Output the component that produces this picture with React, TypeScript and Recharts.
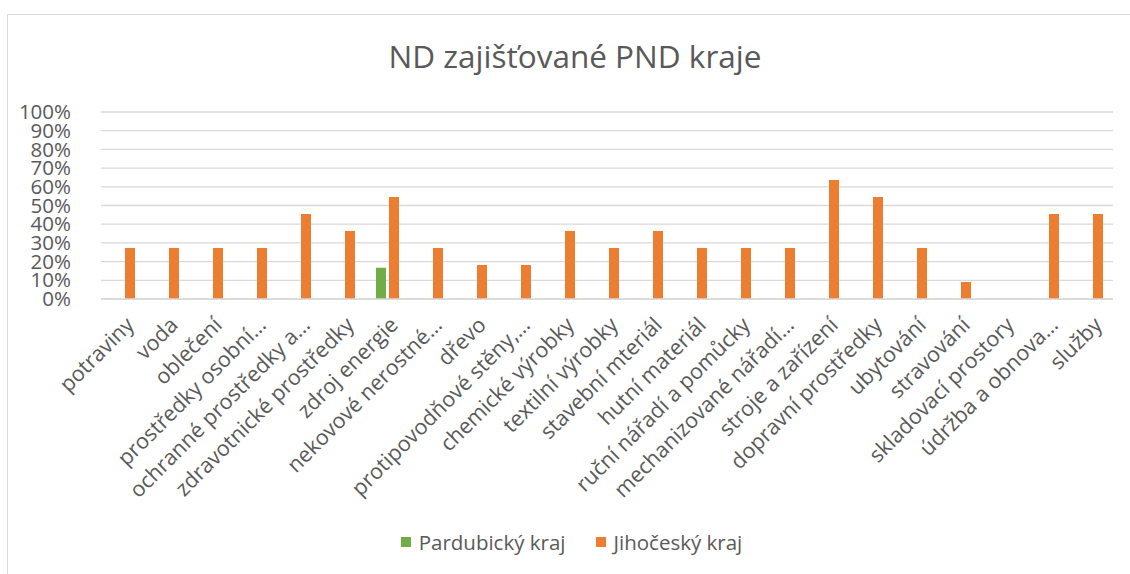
import { BarChart, Bar, XAxis, YAxis, CartesianGrid, Legend } from 'recharts';

const categories = [
  'potraviny',
  'voda',
  'oblečení',
  'prostředky osobní…',
  'ochranné prostředky a…',
  'zdravotnické prostředky',
  'zdroj energie',
  'nekovové nerostné…',
  'dřevo',
  'protipovodňové stěny,…',
  'chemické výrobky',
  'textilní výrobky',
  'stavební mteriál',
  'hutní materiál',
  'ruční nářadí a pomůcky',
  'mechanizované nářadí…',
  'stroje a zařízení',
  'dopravní prostředky',
  'ubytování',
  'stravování',
  'skladovací prostory',
  'údržba a obnova…',
  'služby',
];

const pardubicky = [
  null, null, null, null, null, null, 0.167, null, null, null, null, null,
  null, null, null, null, null, null, null, null, null, null, null,
];

const jihocesky = [
  0.273, 0.273, 0.273, 0.273, 0.455, 0.364, 0.545, 0.273, 0.182, 0.182, 0.364, 0.273,
  0.364, 0.273, 0.273, 0.273, 0.636, 0.545, 0.273, 0.091, 0, 0.455, 0.455,
];

const yTicks = [0, 0.1, 0.2, 0.3, 0.4, 0.5, 0.6, 0.7, 0.8, 0.9, 1];

const seriesNames = ['Pardubický kraj', 'Jihočeský kraj'];
const GREEN = '#70AD47';
const ORANGE = '#ED7D31';
const TEXT = '#595959';
const GRID = '#D9D9D9';
const FONT = '"Open Sans", sans-serif';

const data = categories.map((name, i) => ({
  name,
  pardubicky: pardubicky[i],
  jihocesky: jihocesky[i],
}));

// the y labels sit very close together in the original, as here
function YTick({ x, y, payload }: any) {
  return (
    <text x={x - 22} y={y} dy="0.35em" textAnchor="end" fill={TEXT} fontSize={20.5} fontFamily={FONT}>
      {Math.round(payload.value * 100)}%
    </text>
  );
}

function XTick({ x, y, payload }: any) {
  const tx = x + 7;
  const ty = y + 14;
  return (
    <text
      x={tx}
      y={ty}
      textAnchor="end"
      dy="0.35em"
      transform={`rotate(-45, ${tx}, ${ty})`}
      fill={TEXT}
      fontSize={21.5}
      fontFamily={FONT}
    >
      {payload.value}
    </text>
  );
}

function LegendBox() {
  const colors = [GREEN, ORANGE];
  return (
    <div style={{ display: 'flex', justifyContent: 'center', gap: 30, paddingLeft: 30, fontFamily: FONT, fontSize: 20.5, color: TEXT }}>
      {seriesNames.map((n, i) => (
        <div key={n} style={{ display: 'flex', alignItems: 'center', gap: 8 }}>
          <div style={{ width: 10, height: 10, background: colors[i] }} />
          <span>{n}</span>
        </div>
      ))}
    </div>
  );
}

export default function App() {
  return (
    <div style={{ position: 'absolute', left: 0, top: 0, width: 1130, height: 574, overflow: 'hidden', background: '#fff' }}>
      <div style={{ position: 'absolute', left: 7, top: 14, width: 1140, height: 600, border: `1.5px solid ${GRID}` }} />
      <div
        style={{
          position: 'absolute',
          top: 34,
          left: 0,
          width: 1150,
          textAlign: 'center',
          fontFamily: FONT,
          fontSize: 31.5,
          color: TEXT,
        }}
      >
        ND zajišťované PND kraje
      </div>
      <div style={{ position: 'absolute', left: 0, top: 0 }}>
        <BarChart
          width={1130}
          height={574}
          data={data}
          margin={{ top: 112, right: 17, left: 0, bottom: 16 }}
          barSize={10}
          barGap={3}
        >
          <CartesianGrid vertical={false} stroke={GRID} strokeWidth={1.3} />
          <XAxis
            dataKey="name"
            interval={0}
            height={229}
            tickLine={false}
            axisLine={{ stroke: GRID, strokeWidth: 1.3 }}
            tick={<XTick />}
          />
          <YAxis
            width={101}
            domain={[0, 1]}
            ticks={yTicks}
            interval={0}
            axisLine={false}
            tickLine={false}
            tick={<YTick />}
          />
          <Legend verticalAlign="bottom" height={30} content={<LegendBox />} />
          <Bar dataKey="pardubicky" name={seriesNames[0]} fill={GREEN} isAnimationActive={false} />
          <Bar dataKey="jihocesky" name={seriesNames[1]} fill={ORANGE} isAnimationActive={false} />
        </BarChart>
      </div>
    </div>
  );
}
